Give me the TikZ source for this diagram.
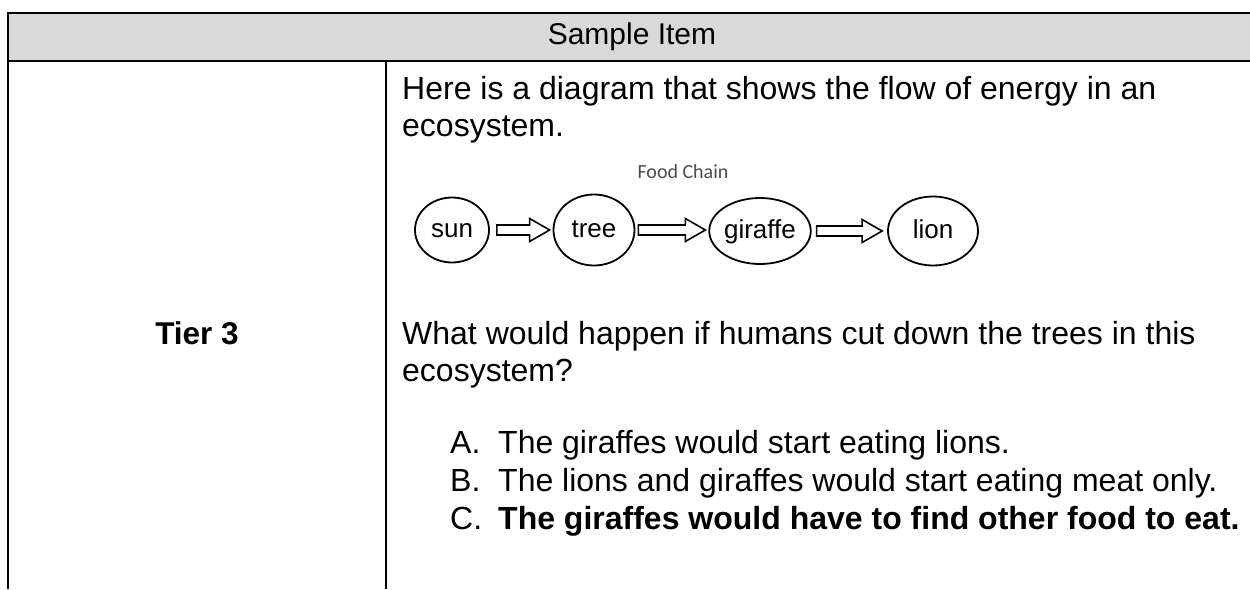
\documentclass[tikz,border=0pt]{standalone}
\usepackage{fontspec}
\setmainfont[Ligatures=NoCommon]{Liberation Sans}
\newfontfamily\smallcal{Carlito}
\usetikzlibrary{calc,shapes.geometric}
\tikzset{
  rule/.style={line width=2.5pt},
  body/.style={anchor=base west, inner sep=0pt, font=\fontsize{32}{38}\selectfont},
  creature/.style={draw, ellipse, line width=1.8pt, inner sep=0pt, text height=14pt, text depth=0pt, font=\fontsize{26}{30}\selectfont},
  blockarrow/.style={draw, line width=1.6pt, to path={
    let \p1=(\tikztostart), \p2=(\tikztotarget) in
    (\x1,\y1-5pt) -- (\x2-20pt,\y1-5pt) -- (\x2-20pt,\y1-11.5pt) -- (\x2,\y1)
    -- (\x2-20pt,\y1+11.5pt) -- (\x2-20pt,\y1+5pt) -- (\x1,\y1+5pt) -- cycle}}
}
\begin{document}
\begin{tikzpicture}[x=1pt,y=-1pt]
\useasboundingbox (0,0) rectangle (1250,589);
% header
\fill[gray!30] (8,13) rectangle (1250,61);
\draw[rule] (1250,13) -- (8,13) -- (8,589);
\draw[rule] (8,61) -- (1250,61);
\draw[rule] (386,61) -- (386,589);
\node[font=\fontsize{30}{34}\selectfont] (head) at (632,37) {Sample Item};
% left column
\node[font=\bfseries\fontsize{31.5}{36}\selectfont] (tier) at (197,333) {Tier 3};
% text
\node[body] (l1) at (402,99) {Here is a diagram that shows the flow of energy in an};
\node[body] (l2) at (402,136) {ecosystem.};
\node[font=\smallcal\fontsize{20}{22}\selectfont, text=black!70] (fc) at (683,172) {Food Chain};
% food chain
\node[creature, minimum width=74pt, minimum height=65pt] (sun) at (452,230) {sun};
\node[creature, minimum width=81pt, minimum height=71pt] (tree) at (594,230) {tree};
\node[creature, minimum width=91pt, minimum height=66pt] (giraffe) at (760,231) {giraffe};
\node[creature, minimum width=90pt, minimum height=69pt] (lion) at (933,231) {lion};
\draw[blockarrow] ([xshift=7pt]sun.east) to ([xshift=-3pt]tree.west);
\draw[blockarrow] ([xshift=3pt]tree.east) to ([xshift=-3pt]giraffe.west);
\draw[blockarrow] ([xshift=5pt]giraffe.east) to ([xshift=-5pt]lion.west);
% question
\node[body] (q1) at (402,344) {What would happen if humans cut down the trees in this};
\node[body] (q2) at (402,381) {ecosystem?};
\node[body] (la) at (450,453) {A.};
\node[body] (ta) at (498,453) {The giraffes would start eating lions.};
\node[body] (lb) at (450,491) {B.};
\node[body] (tb) at (498,491) {The lions and giraffes would start eating meat only.};
\node[body] (lc) at (450,529) {C.};
\node[body, font=\bfseries\fontsize{32}{38}\selectfont] (tc) at (498,529) {The giraffes would have to find other food to eat.};
\end{tikzpicture}
\end{document}
